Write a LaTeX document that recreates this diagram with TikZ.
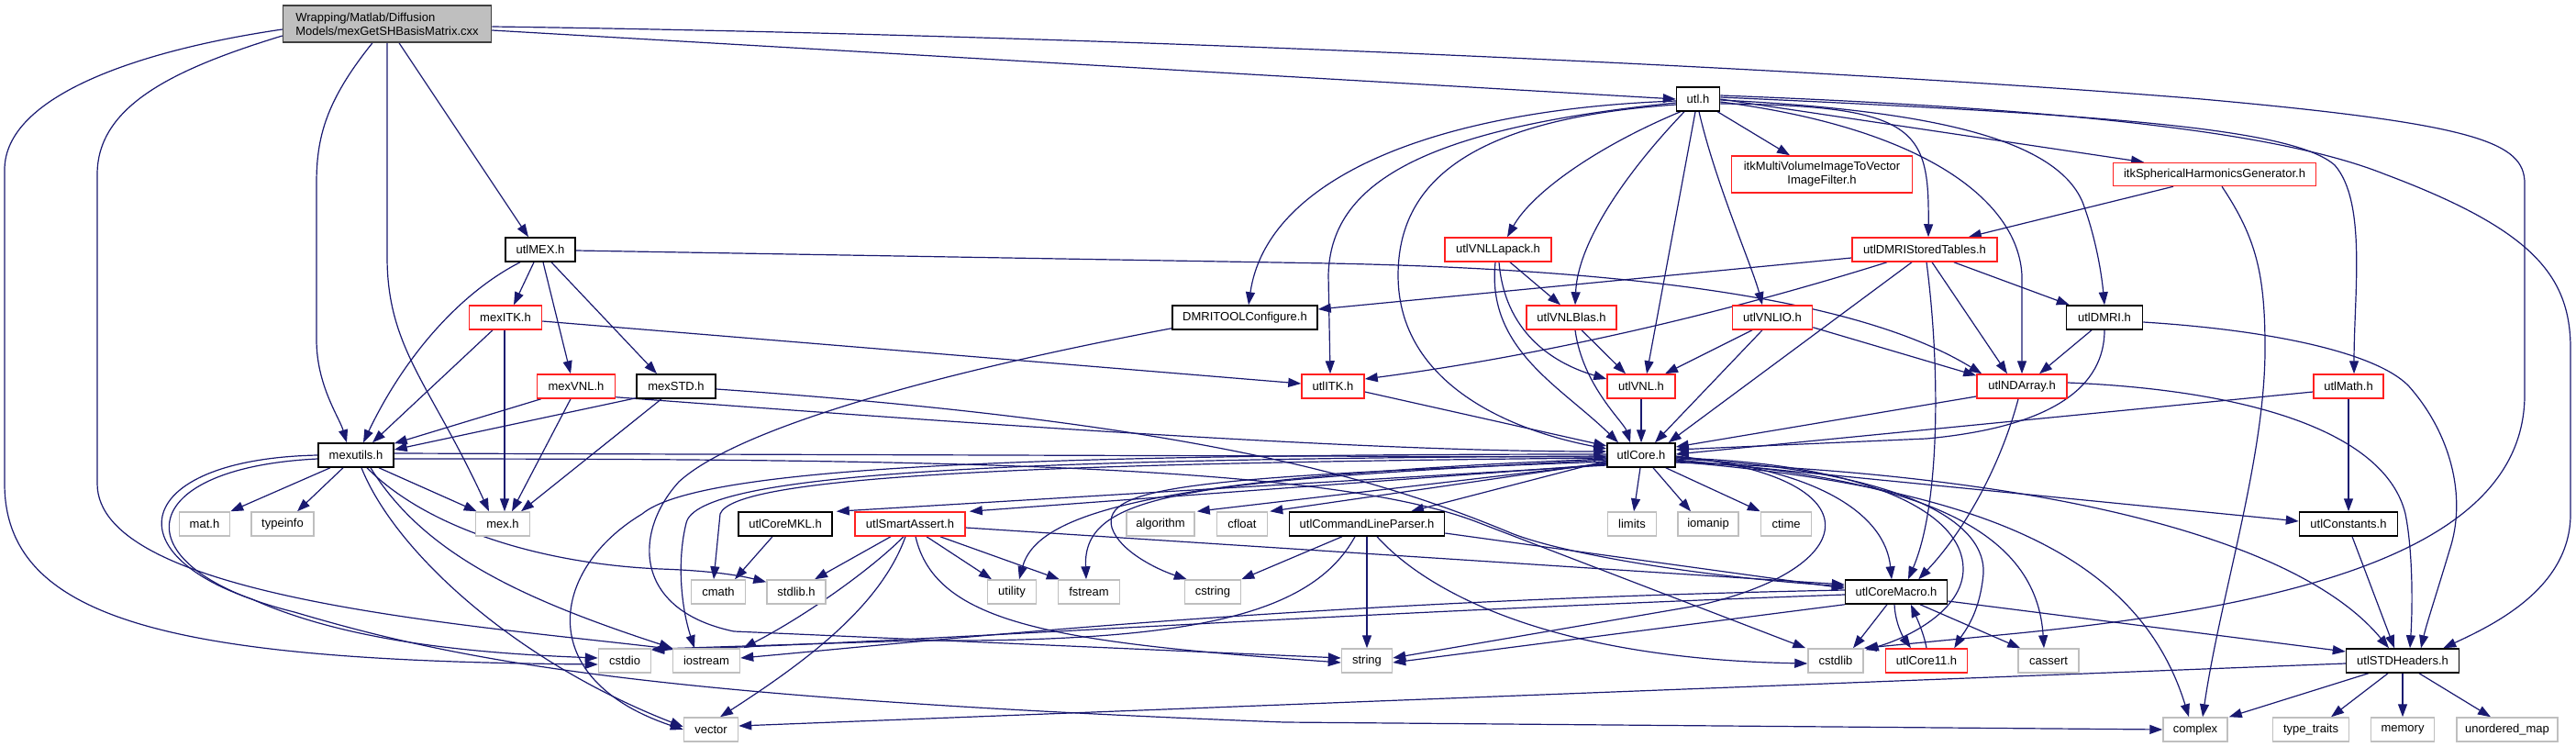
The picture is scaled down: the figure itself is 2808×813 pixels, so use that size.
\documentclass[tikz,border=0pt]{standalone}
\usepackage{fontspec}
\setmainfont{Liberation Sans}
\usetikzlibrary{arrows.meta,calc}
\definecolor{edgec}{HTML}{191970}
\definecolor{greyb}{HTML}{BFBFBF}
\definecolor{redb}{HTML}{FF2020}
\pgfdeclarelayer{bg}
\pgfsetlayers{bg,main}
\begin{document}
\begin{tikzpicture}[x=0.5pt,y=-0.5pt,
  box/.style={rectangle, inner sep=0pt, line width=0.75pt, fill=white, font=\fontsize{6.5pt}{7.5pt}\selectfont},
  nb/.style={box, draw=black},
  nr/.style={box, draw=redb},
  ng/.style={box, draw=greyb},
  ntop/.style={box, draw=black!75, fill=greyb},
  sz/.style 2 args={minimum width=#1*0.5pt, minimum height=#2*0.5pt},
  e/.style={draw=edgec, line width=0.6pt, -{Triangle[length=7pt,width=5pt]}}
]
\path[use as bounding box] (0,0) rectangle (2808,813);

\node[ntop, sz={227}{40}, align=left] (top) at (422,26) {Wrapping/Matlab/Diffusion\\Models/mexGetSHBasisMatrix.cxx};
\node[nb, sz={47}{26}] (utl) at (1851,108) {utl.h};
\node[nb, sz={76}{26}] (utlMEX) at (589,272) {utlMEX.h};
\node[nr, sz={197}{40}, align=center] (itkMV) at (1986,190) {itkMultiVolumeImageToVector\\ImageFilter.h};
\node[nr, sz={221}{25}] (itkSH) at (2414,190) {itkSphericalHarmonicsGenerator.h};
\node[nr, sz={116}{26}] (lapack) at (1633,272) {utlVNLLapack.h};
\node[nr, sz={158}{26}] (stored) at (2098,272) {utlDMRIStoredTables.h};
\node[nr, sz={79}{26}] (mexITK) at (551,346) {mexITK.h};
\node[nb, sz={158}{26}] (dmriconf) at (1357,346) {DMRITOOLConfigure.h};
\node[nr, sz={98}{26}] (blas) at (1713,346) {utlVNLBlas.h};
\node[nr, sz={87}{26}] (vnlio) at (1932,346) {utlVNLIO.h};
\node[nb, sz={83}{26}] (dmri) at (2294,346) {utlDMRI.h};
\node[nr, sz={85}{26}] (mexVNL) at (628,421) {mexVNL.h};
\node[nb, sz={86}{26}] (mexSTD) at (737,421) {mexSTD.h};
\node[nr, sz={68}{26}] (utlITK) at (1453,421) {utlITK.h};
\node[nr, sz={74}{26}] (utlVNL) at (1789,421) {utlVNL.h};
\node[nr, sz={98}{26}] (ndarray) at (2204,421) {utlNDArray.h};
\node[nr, sz={76}{26}] (umath) at (2560,421) {utlMath.h};
\node[nb, sz={82}{26}] (mexutils) at (388,496) {mexutils.h};
\node[nb, sz={74}{26}] (core) at (1789,496) {utlCore.h};
\node[ng, sz={55}{26}] (matn) at (223,571) {mat.h};
\node[ng, sz={68}{26}] (typeinfo) at (308,571) {typeinfo};
\node[ng, sz={59}{26}] (mex) at (548,571) {mex.h};
\node[nb, sz={102}{26}] (mkl) at (856,571) {utlCoreMKL.h};
\node[nr, sz={120}{26}] (sassert) at (992,571) {utlSmartAssert.h};
\node[ng, sz={74}{26}] (algo) at (1265,571) {algorithm};
\node[ng, sz={55}{26}] (cfloat) at (1354,571) {cfloat};
\node[nb, sz={169}{26}] (clp) at (1490,571) {utlCommandLineParser.h};
\node[ng, sz={53}{26}] (limits) at (1779,571) {limits};
\node[ng, sz={66}{26}] (iomanip) at (1862,571) {iomanip};
\node[ng, sz={55}{26}] (ctime) at (1947,571) {ctime};
\node[nb, sz={107}{26}] (consts) at (2560,571) {utlConstants.h};
\node[ng, sz={59}{26}] (cmath) at (783,645) {cmath};
\node[ng, sz={64}{26}] (stdlibh) at (868,645) {stdlib.h};
\node[ng, sz={53}{26}] (utility) at (1103,645) {utility};
\node[ng, sz={67}{26}] (fstream) at (1187,645) {fstream};
\node[ng, sz={61}{26}] (cstring) at (1322,645) {cstring};
\node[nb, sz={111}{26}] (macro) at (2067,645) {utlCoreMacro.h};
\node[ng, sz={57}{26}] (cstdio) at (681,720) {cstdio};
\node[ng, sz={73}{26}] (iostream) at (770,720) {iostream};
\node[ng, sz={55}{26}] (string) at (1490,720) {string};
\node[ng, sz={60}{26}] (cstdlib) at (2001,720) {cstdlib};
\node[nr, sz={89}{26}] (core11) at (2100,720) {utlCore11.h};
\node[ng, sz={66}{26}] (cassert) at (2233,720) {cassert};
\node[nb, sz={123}{26}] (stdh) at (2619,720) {utlSTDHeaders.h};
\node[ng, sz={59}{26}] (vector) at (775,795) {vector};
\node[ng, sz={70}{26}] (complex) at (2393,795) {complex};
\node[ng, sz={83}{26}] (typetraits) at (2519,795) {type\_traits};
\node[ng, sz={69}{26}] (memory) at (2619,795) {memory};
\node[ng, sz={110}{26}] (umap) at (2733,795) {unordered\_map};

\begin{pgfonlayer}{bg}
% top node
\draw[e] ($(top.west)+(0,6)$) .. controls (150,55) and (5,105) .. (5,185) -- (5,527) .. controls (5,680) and (200,720) .. ($(cstdio.west)+(0,4)$);
\draw[e] ($(top.west)+(0,13)$) .. controls (190,75) and (106,115) .. (106,190) -- (106,527) .. controls (106,650) and (500,680) .. ($(iostream.north west)+(0,1)$);
\draw[e] ($(top.south)+(-16,0)$) .. controls (355,110) and (345,150) .. (345,200) -- (345,370) .. controls (345,420) and (370,455) .. ($(mexutils.north)+(-10,0)$);
\draw[e] (top.south) -- (422,280) .. controls (422,380) and (470,420) .. ($(mex.north)+(-15,0)$);
\draw[e] ($(top.south)+(13,0)$) -- ($(utlMEX.north)+(-13,0)$);
\draw[e] ($(top.east)+(0,7)$) -- (utl.west);
\draw[e] ($(top.east)+(0,3)$) .. controls (1200,38) and (2000,75) .. (2400,108) .. controls (2700,135) and (2752,155) .. (2752,200) -- (2752,430) .. controls (2752,600) and (2500,660) .. (2200,690) -- (cstdlib.north east);
% utlMEX
\draw[e] ($(utlMEX.south)+(-22,0)$) .. controls (500,320) and (440,390) .. ($(mexutils.north)+(8,0)$);
\draw[e] ($(utlMEX.south)+(-7,0)$) -- ($(mexITK.north)+(9,0)$);
\draw[e] ($(utlMEX.south)+(3,0)$) -- ($(mexVNL.north)+(-6,0)$);
\draw[e] ($(utlMEX.south)+(12,0)$) -- ($(mexSTD.north)+(-21,0)$);
\draw[e] ($(utlMEX.east)+(0,1)$) -- (1450,287) .. controls (1850,295) and (2050,340) .. ($(ndarray.north west)+(6,0)$);
% mexITK
\draw[e] ($(mexITK.south)+(-14,0)$) -- ($(mexutils.north)+(18,0)$);
\draw[e] ($(mexITK.south)+(-1,0)$) -- ($(mex.north)+(2,0)$);
\draw[e] ($(mexITK.east)+(0,4)$) -- ($(utlITK.west)+(0,-3)$);
% mexVNL
\draw[e] ($(mexVNL.south west)+(5,0)$) -- ($(mexutils.north east)+(0,1)$);
\draw[e] ($(mexVNL.south)+(-6,0)$) -- ($(mex.north)+(10,0)$);
\draw[e] ($(mexVNL.south east)+(0,-2)$) .. controls (1100,465) and (1500,492) .. ($(core.west)+(0,-4)$);
% mexSTD
\draw[e] ($(mexSTD.south west)+(0,-1)$) -- ($(mexutils.east)+(0,-6)$);
\draw[e] ($(mexSTD.south)+(-16,0)$) -- ($(mex.north)+(20,0)$);
\draw[e] ($(mexSTD.east)+(0,3)$) .. controls (1300,460) and (1500,520) .. (1645,580) .. controls (1700,603) and (1850,628) .. ($(macro.west)+(0,-6)$);
% mexutils
\draw[e] ($(mexutils.south)+(-28,0)$) -- (matn.north east);
\draw[e] ($(mexutils.south)+(-14,0)$) -- ($(typeinfo.north)+(16,0)$);
\draw[e] ($(mexutils.south)+(25,0)$) -- ($(mex.north west)+(2,0)$);
\draw[e] ($(mexutils.south)+(12,0)$) .. controls (470,580) and (600,615) .. (720,620) .. controls (780,622) and (810,628) .. ($(stdlibh.north west)+(0,3)$);
\draw[e] ($(mexutils.south)+(16,0)$) .. controls (460,600) and (560,650) .. (iostream.north west);
\draw[e] ($(mexutils.south)+(6,0)$) .. controls (430,600) and (560,720) .. ($(vector.west)+(0,-3)$);
\draw[e] (mexutils.west) .. controls (150,500) and (120,600) .. (275,653) .. controls (380,700) and (520,712) .. ($(cstdio.west)+(0,-3)$);
\draw[e] ($(mexutils.west)+(0,4)$) .. controls (140,510) and (130,620) .. (321,667) .. controls (500,720) and (700,760) .. (1400,787) -- (complex.west);
\draw[e] ($(mexutils.east)+(0,-2)$) -- ($(core.west)+(0,2)$);
\draw[e] ($(mexutils.east)+(0,4)$) .. controls (1000,500) and (1450,505) .. (1613,570) -- ($(cstdlib.north west)+(-2,0)$);
% utl.h
\draw[e] ($(utl.west)+(0,2)$) .. controls (1550,120) and (1380,200) .. ($(dmriconf.north)+(4,0)$);
\draw[e] ($(utl.west)+(0,4)$) .. controls (1550,140) and (1450,200) .. (1448,300) -- ($(utlITK.north)+(-3,0)$);
\draw[e] ($(utl.west)+(0,6)$) .. controls (1600,130) and (1524,200) .. (1524,300) .. controls (1524,420) and (1650,470) .. ($(core.west)+(0,-7)$);
\draw[e] ($(utl.south west)+(5,0)$) .. controls (1740,160) and (1670,210) .. ($(lapack.north)+(10,0)$);
\draw[e] ($(utl.south)+(-15,0)$) .. controls (1780,180) and (1720,260) .. ($(blas.north)+(4,0)$);
\draw[e] ($(utl.south)+(-3,0)$) -- ($(utlVNL.north)+(6,0)$);
\draw[e] ($(utl.south)+(1,0)$) .. controls (1870,200) and (1910,290) .. ($(vnlio.north)+(-11,0)$);
\draw[e] ($(utl.south east)+(-3,0)$) -- ($(itkMV.north)+(-35,0)$);
\draw[e] ($(utl.east)+(0,5)$) .. controls (2090,115) and (2103,140) .. ($(stored.north)+(4,0)$);
\draw[e] ($(utl.east)+(0,3)$) .. controls (2100,140) and (2200,220) .. (2204,300) -- (ndarray.north);
\draw[e] ($(utl.east)+(0,1)$) .. controls (2100,120) and (2240,150) .. (2270,220) .. controls (2285,260) and (2291,300) .. (dmri.north);
\draw[e] (utl.east) -- ($(itkSH.north)+(-77,0)$);
\draw[e] ($(utl.east)+(0,-2)$) .. controls (2300,125) and (2500,140) .. (2545,180) .. controls (2580,220) and (2566,320) .. ($(umath.north)+(6,0)$);
\draw[e] ($(utl.east)+(0,-4)$) .. controls (2300,120) and (2500,150) .. (2600,190) .. controls (2760,250) and (2802,300) .. (2802,380) -- (2802,560) .. controls (2802,640) and (2720,680) .. ($(stdh.north east)+(-18,0)$);
% VNL family
\draw[e] ($(lapack.south)+(13,0)$) -- ($(blas.north)+(-12,0)$);
\draw[e] ($(lapack.south)+(1,0)$) .. controls (1640,360) and (1690,395) .. ($(utlVNL.west)+(0,-8)$);
\draw[e] ($(lapack.south)+(-3,0)$) .. controls (1620,380) and (1700,420) .. ($(core.north)+(-25,0)$);
\draw[e] ($(blas.south)+(11,0)$) -- ($(utlVNL.north)+(-17,0)$);
\draw[e] ($(blas.south)+(4,0)$) .. controls (1725,420) and (1770,460) .. ($(core.north)+(-12,0)$);
\draw[e] ($(vnlio.south)+(-22,0)$) -- ($(utlVNL.north)+(26,0)$);
\draw[e] ($(vnlio.south)+(-11,0)$) -- ($(core.north)+(15,0)$);
\draw[e] ($(vnlio.south east)+(0,-3)$) -- ($(ndarray.north west)+(0,2)$);
\draw[e] ($(utlITK.east)+(0,6)$) -- ($(core.west)+(0,-10)$);
\draw[e] (utlVNL.south) -- (core.north);
% stored tables
\draw[e] ($(stored.west)+(0,9)$) -- ($(dmriconf.east)+(0,-9)$);
\draw[e] ($(stored.south)+(-41,0)$) .. controls (1900,335) and (1700,385) .. ($(utlITK.east)+(0,-8)$);
\draw[e] ($(stored.south)+(-14,0)$) -- ($(core.north east)+(-8,0)$);
\draw[e] ($(stored.south)+(2,0)$) .. controls (2115,400) and (2115,550) .. ($(macro.north)+(13,0)$);
\draw[e] ($(stored.south)+(8,0)$) -- ($(ndarray.north)+(-16,0)$);
\draw[e] ($(stored.south east)+(-48,0)$) -- ($(dmri.north west)+(4,0)$);
% itkSH
\draw[e] ($(itkSH.south)+(-45,0)$) -- ($(stored.north east)+(-32,0)$);
\draw[e] ($(itkSH.south)+(8,0)$) .. controls (2460,260) and (2469,300) .. (2469,380) .. controls (2469,500) and (2420,650) .. ($(complex.north)+(8,0)$);
% dmri
\draw[e] ($(dmri.south)+(-14,0)$) -- ($(ndarray.north)+(19,0)$);
\draw[e] (dmri.south) .. controls (2294,420) and (2240,465) .. (2100,478) -- ($(core.east)+(0,-6)$);
\draw[e] ($(dmri.east)+(0,5)$) .. controls (2480,360) and (2590,385) .. (2625,420) .. controls (2670,470) and (2690,540) .. (2670,600) .. controls (2655,650) and (2645,680) .. ($(stdh.north)+(20,0)$);
% ndarray, math, constants
\draw[e] ($(ndarray.west)+(0,11)$) -- ($(core.east)+(0,-9)$);
\draw[e] ($(ndarray.south)+(-4,0)$) .. controls (2180,510) and (2140,580) .. ($(macro.north east)+(-32,0)$);
\draw[e] ($(ndarray.east)+(0,-4)$) .. controls (2450,425) and (2600,470) .. (2622,560) .. controls (2630,600) and (2630,660) .. ($(stdh.north)+(8,0)$);
\draw[e] ($(umath.west)+(0,6)$) -- ($(core.east)+(0,-1)$);
\draw[e] (umath.south) -- (consts.north);
\draw[e] ($(consts.south)+(4,0)$) -- ($(stdh.north)+(-9,0)$);
% DMRITOOLConfigure
\draw[e] ($(dmriconf.south west)+(0,-2)$) .. controls (1000,410) and (800,470) .. (740,525) .. controls (690,580) and (690,665) .. (800,688) -- ($(string.west)+(0,-3)$);
% smart assert, MKL, command line parser
\draw[e] ($(sassert.south)+(-21,0)$) -- ($(stdlibh.north)+(20,0)$);
\draw[e] ($(sassert.south)+(-7,0)$) .. controls (950,620) and (880,670) .. ($(iostream.north east)+(3,0)$);
\draw[e] ($(sassert.south)+(-5,0)$) .. controls (960,660) and (880,720) .. ($(vector.north)+(10,0)$);
\draw[e] ($(sassert.south)+(6,0)$) .. controls (1020,680) and (1150,700) .. ($(string.west)+(0,2)$);
\draw[e] ($(sassert.south)+(18,0)$) -- ($(utility.north)+(-22,0)$);
\draw[e] ($(sassert.south east)+(-28,0)$) -- ($(fstream.north west)+(2,0)$);
\draw[e] ($(sassert.east)+(0,4)$) -- ($(macro.west)+(0,-8)$);
\draw[e] ($(mkl.south)+(-14,0)$) -- ($(cmath.north)+(18,0)$);
\draw[e] (clp.south) -- (string.north);
\draw[e] ($(clp.south)+(-27,0)$) -- (cstring.north east);
\draw[e] ($(clp.south)+(-13,0)$) .. controls (1430,670) and (1300,700) .. (1000,698) -- ($(cstdio.north east)+(0,1)$);
\draw[e] ($(clp.south)+(11,0)$) .. controls (1560,650) and (1700,718) .. ($(cstdlib.west)+(0,3)$);
\draw[e] ($(clp.east)+(0,10)$) -- ($(macro.west)+(0,-4)$);
% utlCore
\draw[e] ($(core.south)+(-1,0)$) -- ($(limits.north)+(2,0)$);
\draw[e] ($(core.south)+(13,0)$) -- ($(iomanip.north)+(-19,0)$);
\draw[e] ($(core.south east)+(-11,0)$) -- (ctime.north west);
\draw[e] ($(core.west)+(0,6)$) -- ($(clp.north)+(48,0)$);
\draw[e] ($(core.west)+(0,8)$) -- ($(cfloat.north east)+(2,0)$);
\draw[e] ($(core.west)+(0,9)$) -- ($(algo.north east)+(2,0)$);
\draw[e] ($(core.west)+(0,10)$) -- ($(sassert.north east)+(4,0)$);
\draw[e] ($(core.west)+(0,11)$) -- ($(mkl.north east)+(4,0)$);
\draw[e] ($(core.west)+(0,3)$) .. controls (1100,505) and (800,520) .. (785,560) -- ($(cmath.north)+(-5,0)$);
\draw[e] ($(core.west)+(0,1)$) .. controls (1100,500) and (760,515) .. (748,570) .. controls (738,610) and (742,660) .. ($(iostream.north)+(-13,0)$);
\draw[e] ($(core.west)+(0,-1)$) .. controls (1100,495) and (760,510) .. (700,560) .. controls (600,620) and (580,740) .. (vector.west);
\draw[e] ($(core.west)+(0,4)$) .. controls (1250,520) and (1130,560) .. ($(utility.north)+(8,0)$);
\draw[e] ($(core.west)+(0,5)$) .. controls (1300,525) and (1180,535) .. ($(fstream.north)+(-3,0)$);
\draw[e] ($(core.west)+(0,7)$) .. controls (1300,520) and (1200,530) .. (1212,575) .. controls (1220,600) and (1260,620) .. ($(cstring.north west)+(3,0)$);
\draw[e] ($(core.east)+(0,2)$) .. controls (1980,510) and (2055,560) .. ($(macro.north)+(-5,0)$);
\draw[e] ($(core.east)+(0,4)$) .. controls (2050,510) and (2165,560) .. (2162,625) .. controls (2158,670) and (2140,690) .. ($(core11.north east)+(-15,0)$);
\draw[e] ($(core.east)+(0,3)$) .. controls (2040,505) and (2140,560) .. (2140,620) .. controls (2140,665) and (2080,695) .. ($(cstdlib.north east)+(2,2)$);
\draw[e] ($(core.east)+(0,1)$) .. controls (2050,520) and (2030,620) .. (1850,660) -- ($(string.east)+(0,-3)$);
\draw[e] ($(core.east)+(0,5)$) -- ($(consts.west)+(0,-3)$);
\draw[e] ($(core.east)+(0,6)$) .. controls (2100,520) and (2220,580) .. ($(cassert.north)+(-5,0)$);
\draw[e] ($(core.east)+(0,7)$) .. controls (2150,530) and (2330,600) .. ($(complex.north)+(-7,0)$);
\draw[e] ($(core.east)+(0,8)$) .. controls (2200,515) and (2500,580) .. ($(stdh.north)+(-15,0)$);
% utlCoreMacro, utlCore11
\draw[e] ($(macro.west)+(0,-2)$) .. controls (1400,655) and (1000,700) .. ($(iostream.east)+(0,-3)$);
\draw[e] ($(macro.west)+(0,3)$) .. controls (1400,670) and (1000,700) .. ($(cstdio.north east)+(0,2)$);
\draw[e] (macro.south west) -- ($(string.east)+(0,2)$);
\draw[e] ($(macro.south)+(-10,0)$) -- ($(cstdlib.north)+(19,0)$);
\draw[e] ($(macro.south)+(-2,0)$) .. controls (2066,680) and (2075,695) .. ($(core11.north)+(-17,0)$);
\draw[e] (core11.north) .. controls (2097,690) and (2090,675) .. ($(macro.south)+(16,0)$);
\draw[e] ($(macro.south)+(26,0)$) -- ($(cassert.north west)+(3,0)$);
\draw[e] ($(macro.east)+(0,10)$) -- ($(stdh.west)+(0,-10)$);
% utlSTDHeaders
\draw[e] ($(stdh.west)+(0,3)$) -- ($(vector.east)+(0,-4)$);
\draw[e] ($(stdh.south west)+(25,0)$) -- ($(complex.north east)+(1,0)$);
\draw[e] ($(stdh.south)+(-16,0)$) -- ($(typetraits.north)+(22,0)$);
\draw[e] (stdh.south) -- (memory.north);
\draw[e] ($(stdh.south)+(18,0)$) -- ($(umap.north)+(-18,0)$);
\end{pgfonlayer}
\end{tikzpicture}
\end{document}
